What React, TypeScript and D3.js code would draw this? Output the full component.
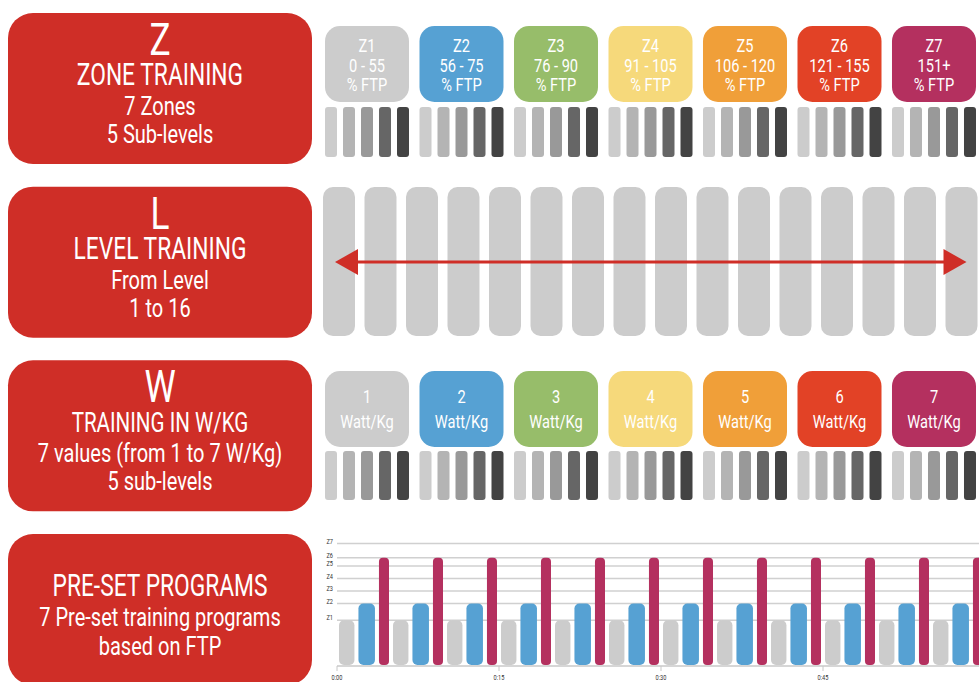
import * as d3 from 'd3'
import {useRef, useEffect} from 'react'

// zone boxes (top row) and watt boxes (third row)
const zoneNames = ['Z1', 'Z2', 'Z3', 'Z4', 'Z5', 'Z6', 'Z7']
const zoneRanges = ['0 - 55', '56 - 75', '76 - 90', '91 - 105', '106 - 120', '121 - 155', '151+']
const zoneColors = ['#cccccc', '#56a1d3', '#97bd6a', '#f6d97b', '#f09f39', '#e24226', '#b4305f']
const wattValues = ['1', '2', '3', '4', '5', '6', '7']
const subLevels = [1, 2, 3, 4, 5]
const subLevelColors = ['#cccccc', '#b4b4b4', '#999999', '#666666', '#434343']
const levels = [1, 2, 3, 4, 5, 6, 7, 8, 9, 10, 11, 12, 13, 14, 15, 16]

// red panels on the left
const panelLetters = ['Z', 'L', 'W', '']
const panelHeadings = ['ZONE TRAINING', 'LEVEL TRAINING', 'TRAINING IN W/KG', 'PRE-SET PROGRAMS']
const panelLines = [
  ['7 Zones', '5 Sub-levels'],
  ['From Level', '1 to 16'],
  ['7 values (from 1 to 7 W/Kg)', '5 sub-levels'],
  ['7 Pre-set training programs', 'based on FTP'],
]

// pre-set program chart
const gridZoneFtp = [55, 75, 90, 105, 120, 130, 147]
const programZones = [
  'Z1', 'Z2', 'Z7', 'Z1', 'Z2', 'Z7', 'Z1', 'Z2', 'Z7', 'Z1', 'Z2', 'Z7',
  'Z1', 'Z2', 'Z7', 'Z1', 'Z2', 'Z7', 'Z1', 'Z2', 'Z7', 'Z1', 'Z2', 'Z7',
  'Z1', 'Z2', 'Z7', 'Z1', 'Z2', 'Z7', 'Z1', 'Z2', 'Z7', 'Z1', 'Z2', 'Z7',
]
const programFtp = [
  55, 75, 130, 55, 75, 130, 55, 75, 130, 55, 75, 130,
  55, 75, 130, 55, 75, 130, 55, 75, 130, 55, 75, 130,
  55, 75, 130, 55, 75, 130, 55, 75, 130, 55, 75, 130,
]
const programMinutes = [
  1.8, 1.9, 1.3, 1.8, 1.9, 1.3, 1.8, 1.9, 1.3, 1.8, 1.9, 1.3,
  1.8, 1.9, 1.3, 1.8, 1.9, 1.3, 1.8, 1.9, 1.3, 1.8, 1.9, 1.3,
  1.8, 1.9, 1.3, 1.8, 1.9, 1.3, 1.8, 1.9, 1.3, 1.8, 1.9, 1.3,
]
const timeTicks = [0, 15, 30, 45, 60]
const timeLabels = ['0:00', '0:15', '0:30', '0:45', '1:00']

const svgWidth = 979
const svgHeight = 682
const red = '#cf2e27'
const font = 'Roboto, sans-serif'

const App = () => {
  const svgRef = useRef(null)

  const draw = (): void => {
    const SVG = d3.select(svgRef.current)
    SVG.selectAll('*').remove()
    SVG.attr('width', svgWidth).attr('height', svgHeight)

    // condensed looking text: Roboto squeezed horizontally
    const ctext = (g: any, x: number, y: number, txt: string, size: number, sx: number, fill = '#fff', anchor = 'middle') => {
      g.append('text')
        .attr('transform', `translate(${x},${y}) scale(${sx},1)`)
        .attr('text-anchor', anchor)
        .attr('font-family', font)
        .attr('font-size', size)
        .attr('fill', fill)
        .text(txt)
    }

    // ---- left panels
    const panelY = d3.scaleBand<number>().domain([0, 1, 2, 3]).range([13, 685]).paddingInner(0.1305)
    const panelX = 8
    const panelW = 304
    const cx = panelX + panelW / 2
    const panels = SVG.append('g')
    panelHeadings.forEach((h, i) => {
      const top = panelY(i)!
      panels.append('rect')
        .attr('x', panelX).attr('y', top)
        .attr('width', panelW).attr('height', panelY.bandwidth())
        .attr('rx', 25).attr('fill', red)
      if (panelLetters[i]) {
        ctext(panels, cx, top + 42, panelLetters[i], 44, 0.8)
        ctext(panels, cx, top + 72, h, i === 2 ? 28 : 31, 0.735)
        ctext(panels, cx, top + 102, panelLines[i][0], 26, 0.77)
        ctext(panels, cx, top + 130, panelLines[i][1], 26, 0.77)
      } else {
        ctext(panels, cx, top + 62, h, 31, 0.735)
        ctext(panels, cx, top + 92, panelLines[i][0], 26, 0.77)
        ctext(panels, cx, top + 121, panelLines[i][1], 26, 0.77)
      }
    })

    // ---- zone columns
    const zoneX = d3.scaleBand<string>().domain(zoneNames).range([325, 976]).paddingInner(0.111)
    const subX = d3.scaleBand<number>().domain(subLevels).range([0, zoneX.bandwidth()]).paddingInner(0.333)

    const drawSubBars = (y: number, h: number) => {
      const g = SVG.append('g')
      zoneNames.forEach(z => {
        g.selectAll(null)
          .data(subLevels)
          .enter()
          .append('rect')
          .attr('x', d => zoneX(z)! + subX(d)!)
          .attr('y', y)
          .attr('width', subX.bandwidth())
          .attr('height', h)
          .attr('rx', 3)
          .attr('fill', (d, i) => subLevelColors[i])
      })
    }

    // row 1: zones
    const zones = SVG.append('g')
    zoneNames.forEach((z, i) => {
      const x = zoneX(z)!
      const mid = x + zoneX.bandwidth() / 2
      zones.append('rect')
        .attr('x', x).attr('y', 26)
        .attr('width', zoneX.bandwidth()).attr('height', 76)
        .attr('rx', 15).attr('fill', zoneColors[i])
      ctext(zones, mid, 52, z, 18.5, 0.79)
      ctext(zones, mid, 72, zoneRanges[i], 18.5, 0.79)
      ctext(zones, mid, 91, '% FTP', 18.5, 0.79)
    })
    drawSubBars(107, 50)

    // row 2: levels
    const levelX = d3.scaleBand<number>().domain(levels).range([323, 977.5]).paddingInner(0.229)
    SVG.append('g').selectAll('rect')
      .data(levels)
      .enter()
      .append('rect')
      .attr('x', d => levelX(d)!)
      .attr('y', 187)
      .attr('width', levelX.bandwidth())
      .attr('height', 149)
      .attr('rx', 10)
      .attr('fill', '#cccccc')

    const arrowY = 262
    const leftTip = levelX(levels[0])! + 12
    const rightTip = levelX(levels[levels.length - 1])! + levelX.bandwidth() - 11
    const arrow = SVG.append('g').attr('fill', red)
    arrow.append('line')
      .attr('x1', leftTip + 20).attr('x2', rightTip - 20)
      .attr('y1', arrowY).attr('y2', arrowY)
      .attr('stroke', red).attr('stroke-width', 3)
    arrow.append('path').attr('d', `M${leftTip},${arrowY} L${leftTip + 23},${arrowY - 13} L${leftTip + 23},${arrowY + 13} Z`)
    arrow.append('path').attr('d', `M${rightTip},${arrowY} L${rightTip - 23},${arrowY - 13} L${rightTip - 23},${arrowY + 13} Z`)

    // row 3: watt/kg
    const watts = SVG.append('g')
    wattValues.forEach((w, i) => {
      const x = zoneX(zoneNames[i])!
      const mid = x + zoneX.bandwidth() / 2
      watts.append('rect')
        .attr('x', x).attr('y', 371)
        .attr('width', zoneX.bandwidth()).attr('height', 76)
        .attr('rx', 15).attr('fill', zoneColors[i])
      ctext(watts, mid, 403, w, 19, 0.77)
      ctext(watts, mid, 428, 'Watt/Kg', 19, 0.77)
    })
    drawSubBars(451, 49)

    // row 4: pre-set program chart
    const tx = d3.scaleLinear().domain([0, 60]).range([337, 985])
    const ty = d3.scaleLinear().domain([0, 150]).range([666, 541])
    const chart = SVG.append('g')

    chart.append('g').selectAll('line')
      .data(gridZoneFtp)
      .enter()
      .append('line')
      .attr('x1', tx(0)).attr('x2', tx(60))
      .attr('y1', d => ty(d)).attr('y2', d => ty(d))
      .attr('stroke', '#d0d0d0').attr('stroke-width', 1.5)

    gridZoneFtp.forEach((v, i) => {
      ctext(chart, 333, ty(v), zoneNames[i], 7.5, 0.75, '#333', 'end')
    })

    const starts = d3.cumsum([0, ...programMinutes])
    chart.append('g').selectAll('rect')
      .data(programMinutes)
      .enter()
      .append('rect')
      .attr('x', (d, i) => tx(starts[i]) + 2)
      .attr('y', (d, i) => ty(programFtp[i]))
      .attr('width', (d, i) => tx(starts[i] + d) - tx(starts[i]) - 4)
      .attr('height', (d, i) => ty(0) - 1 - ty(programFtp[i]))
      .attr('rx', (d, i) => programZones[i] === 'Z7' ? 4 : 5)
      .attr('fill', (d, i) => zoneColors[zoneNames.indexOf(programZones[i])])

    chart.append('line')
      .attr('x1', tx(0)).attr('x2', tx(60))
      .attr('y1', ty(0)).attr('y2', ty(0))
      .attr('stroke', '#c8c8c8').attr('stroke-width', 1.5)
    timeTicks.forEach((t, i) => {
      chart.append('line')
        .attr('x1', tx(t)).attr('x2', tx(t))
        .attr('y1', ty(0)).attr('y2', ty(0) + 5)
        .attr('stroke', '#c8c8c8').attr('stroke-width', 1)
      ctext(chart, tx(t), 680, timeLabels[i], 7.5, 0.75, '#333')
    })
  }

  useEffect((): void => draw(), [])

  return <svg ref={svgRef} style={{position: 'absolute', left: 0, top: 0, display: 'block'}}></svg>
}

export default App
